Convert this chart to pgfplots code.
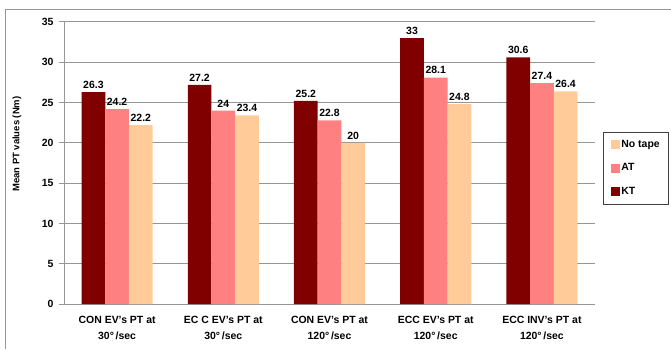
\documentclass[border=0pt]{standalone}
\usepackage{fontspec}
\setmainfont{Liberation Sans}
\usepackage{pgfplots}
\pgfplotsset{compat=1.18}
\definecolor{kt}{RGB}{128,0,0}
\definecolor{at}{RGB}{255,128,128}
\definecolor{notape}{RGB}{255,204,153}
\definecolor{gridgray}{RGB}{150,150,150}
\pgfplotsset{/pgfplots/ybar legend/.style={/pgfplots/legend image code/.code={\fill[##1] (0bp,-4.5bp) rectangle (9bp,4.5bp);}}}
\begin{document}
\begin{tikzpicture}[x=1bp,y=1bp]
\useasboundingbox (0,0) rectangle (671,349);
\draw[gridgray, line width=1bp] (5,0) -- (5,339) -- (671,339);
\begin{axis}[
  at={(64bp,45bp)}, anchor=south west,
  scale only axis, width=531bp, height=282bp,
  ybar=0pt, bar width=23.7bp,
  ymin=0, ymax=35, ytick={0,5,...,35},
  xmin=-0.5, xmax=4.5, xtick={0,...,4},
  xticklabels={{CON EV's PT at\\30\textdegree\,/sec},{EC C EV's PT at\\30\textdegree\,/sec},{CON EV's PT at\\120\textdegree\,/sec},{ECC EV's PT at\\120\textdegree\,/sec},{ECC INV's PT at\\120\textdegree\,/sec}},
  xticklabel style={align=center, font=\bfseries\fontsize{10.5}{16}\selectfont, yshift=-4bp},
  yticklabel style={font=\bfseries\fontsize{10.5}{12}\selectfont, xshift=-2bp},
  /pgf/number format/assume math mode=true,
  minor xtick={-0.5,0.5,...,4.5},
  xtick style={draw=none},
  tick align=outside, major tick length=5bp, minor tick length=4bp,
  tick style={gridgray, line width=1bp},
  axis x line*=bottom, axis y line*=left,
  axis line style={gridgray, line width=1bp, -},
  ymajorgrids, grid style={gridgray, line width=1bp},
  ylabel={Mean PT values (Nm)},
  ylabel style={at={(axis description cs:-0.0885,0.567)}, anchor=center, font=\bfseries\fontsize{9.5}{11}\selectfont},
  nodes near coords,
  every node near coord/.append style={font=\bfseries\fontsize{10.5}{12}\selectfont},
  legend style={at={(1.015,0.482)}, anchor=west, draw=black!75, line width=0.8bp,
    font=\bfseries\fontsize{10.5}{12}\selectfont, row sep=11bp, inner xsep=8bp, inner ysep=6bp,
    nodes={inner xsep=1bp}},
  legend cell align=left, reverse legend,
]
\addplot[draw=none, fill=kt] coordinates {(0,26.3) (1,27.2) (2,25.2) (3,33) (4,30.6)};
\addplot[draw=none, fill=at] coordinates {(0,24.2) (1,24) (2,22.8) (3,28.1) (4,27.4)};
\addplot[draw=none, fill=notape] coordinates {(0,22.2) (1,23.4) (2,20) (3,24.8) (4,26.4)};
\legend{KT, AT, No tape}
\end{axis}
\end{tikzpicture}
\end{document}
